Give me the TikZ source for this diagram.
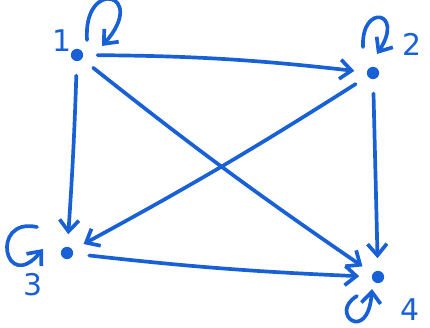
\documentclass[tikz,border=0pt]{standalone}
\usepackage{fontspec}
\setmainfont{DejaVu Sans}
\usetikzlibrary{arrows.meta,calc}
\definecolor{pen}{RGB}{24,96,214}
\begin{document}
\begin{tikzpicture}[x=0.02cm,y=0.02cm,
  dot/.style={circle,fill=pen,inner sep=0pt,minimum size=7pt},
  lbl/.style={text=pen,font=\fontsize{17}{17}\selectfont},
  edge/.style={draw=pen,line width=2.1pt,line cap=round,
    -{Straight Barb[length=6.5pt,width=11pt,line width=2.1pt]},
    shorten <=8pt, shorten >=7pt},
  selfloop/.style={edge,shorten <=0pt,shorten >=0pt}]
\useasboundingbox (0,0) rectangle (430,328);
\node[dot] (n1) at (77,273) {};
\node[dot] (n2) at (373,255) {};
\node[dot] (n3) at (67,75) {};
\node[dot] (n4) at (378,51) {};
\node[lbl] (l1) at (62,287) {1};
\node[lbl] (l2) at (412,284) {2};
\node[lbl] (l3) at (33,43) {3};
\node[lbl] (l4) at (410,18) {4};
% edges
\draw[edge] (n1) to[bend left=3] (n2);
\draw[edge] (n1) to[bend left=1] (n3);
\draw[edge] (n1) to[bend right=2] (n4);
\draw[edge] (n2) to[bend left=2] (n3);
\draw[edge] (n2) to (n4);
\draw[edge,shorten <=9pt] (n3) to[bend right=2] (n4);
% self loops
\draw[selfloop] ($(n1)+(10,15)$) .. controls ($(n1)+(6,78)$) and ($(n1)+(72,62)$) .. ($(n1)+(25,9)$);
\draw[selfloop] ($(n2)+(-10,26)$) .. controls ($(n2)+(-12,70)$) and ($(n2)+(32,62)$) .. ($(n2)+(4,19)$);
\draw[selfloop] ($(n3)+(-30,26)$) .. controls ($(n3)+(-78,36)$) and ($(n3)+(-62,-42)$) .. ($(n3)+(-24,4)$);
\draw[selfloop] ($(n4)+(-21,-19)$) .. controls ($(n4)+(-50,-36)$) and ($(n4)+(-10,-68)$) .. ($(n4)+(-6,-12)$);
\end{tikzpicture}
\end{document}
